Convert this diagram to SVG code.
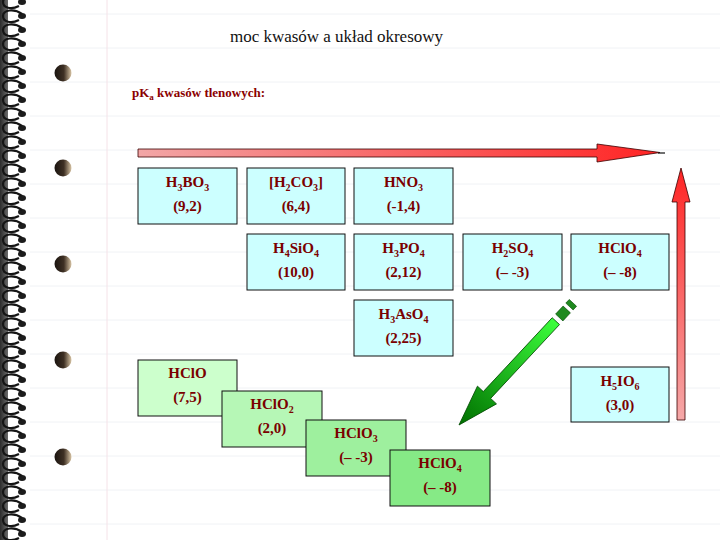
<svg xmlns="http://www.w3.org/2000/svg" width="720" height="540" viewBox="0 0 720 540">
<defs>
<style>
.bx{stroke:#111;stroke-width:1}
.blue{fill:#ccffff}
.t{font-family:"Liberation Serif",serif;font-weight:bold;font-size:15px;fill:#7a0000;text-anchor:middle}
.s{font-size:10px}
.ttl{font-family:"Liberation Serif",serif;font-size:17px;fill:#111}
.sub{font-family:"Liberation Serif",serif;font-weight:bold;font-size:13px;fill:#8b0000}
.rule{stroke:#f0f2f5;stroke-width:1}
.coil{fill:none;stroke:#151515;stroke-width:2.2}
</style>
<linearGradient id="gH" x1="0" y1="0" x2="1" y2="0">
<stop offset="0" stop-color="#f2a6a6"/><stop offset="1" stop-color="#ff2424"/>
</linearGradient>
<linearGradient id="gV" x1="0" y1="1" x2="0" y2="0">
<stop offset="0" stop-color="#f5a8a8"/><stop offset="1" stop-color="#ff2424"/>
</linearGradient>
<linearGradient id="gG" gradientUnits="userSpaceOnUse" x1="0" y1="0" x2="143" y2="0">
<stop offset="0" stop-color="#007000"/><stop offset="1" stop-color="#3cff3c"/>
</linearGradient>
<linearGradient id="hole" x1="0" y1="0" x2="1" y2="0">
<stop offset="0" stop-color="#1a1410"/><stop offset="0.55" stop-color="#3e3024"/><stop offset="1" stop-color="#d8c4a4"/>
</linearGradient>
<linearGradient id="edge" x1="0" y1="0" x2="1" y2="0">
<stop offset="0" stop-color="#2c2c2c"/><stop offset="1" stop-color="#6a6a6a"/>
</linearGradient>
<g id="c">
<ellipse cx="22" cy="0" rx="4" ry="3" fill="#1c1c1c"/>
<path class="coil" d="M22,-2 C14,-8 3,-6 3,0 C3,6 11,8 19,4"/>
</g>
</defs>
<rect width="720" height="540" fill="#ffffff"/>
<g id="paper">
<g>
<line class="rule" x1="30" y1="14" x2="720" y2="14"/>
<line class="rule" x1="30" y1="48" x2="720" y2="48"/>
<line class="rule" x1="30" y1="82" x2="720" y2="82"/>
<line class="rule" x1="30" y1="116" x2="720" y2="116"/>
<line class="rule" x1="30" y1="150" x2="720" y2="150"/>
<line class="rule" x1="30" y1="184" x2="720" y2="184"/>
<line class="rule" x1="30" y1="218" x2="720" y2="218"/>
<line class="rule" x1="30" y1="252" x2="720" y2="252"/>
<line class="rule" x1="30" y1="286" x2="720" y2="286"/>
<line class="rule" x1="30" y1="320" x2="720" y2="320"/>
<line class="rule" x1="30" y1="354" x2="720" y2="354"/>
<line class="rule" x1="30" y1="388" x2="720" y2="388"/>
<line class="rule" x1="30" y1="422" x2="720" y2="422"/>
<line class="rule" x1="30" y1="456" x2="720" y2="456"/>
<line class="rule" x1="30" y1="490" x2="720" y2="490"/>
<line class="rule" x1="30" y1="524" x2="720" y2="524"/>
</g>
<line x1="107" y1="0" x2="107" y2="540" stroke="#f5e2e8" stroke-width="1"/>
<rect x="0" y="0" width="8" height="540" fill="url(#edge)"/>
<g>
<use href="#c" y="2"/><use href="#c" y="16"/><use href="#c" y="30"/><use href="#c" y="44"/><use href="#c" y="58"/>
<use href="#c" y="72"/><use href="#c" y="86"/><use href="#c" y="100"/><use href="#c" y="114"/><use href="#c" y="128"/>
<use href="#c" y="142"/><use href="#c" y="156"/><use href="#c" y="170"/><use href="#c" y="184"/><use href="#c" y="198"/>
<use href="#c" y="212"/><use href="#c" y="226"/><use href="#c" y="240"/><use href="#c" y="254"/><use href="#c" y="268"/>
<use href="#c" y="282"/><use href="#c" y="296"/><use href="#c" y="310"/><use href="#c" y="324"/><use href="#c" y="338"/>
<use href="#c" y="352"/><use href="#c" y="366"/><use href="#c" y="380"/><use href="#c" y="394"/><use href="#c" y="408"/>
<use href="#c" y="422"/><use href="#c" y="436"/><use href="#c" y="450"/><use href="#c" y="464"/><use href="#c" y="478"/>
<use href="#c" y="492"/><use href="#c" y="506"/><use href="#c" y="520"/><use href="#c" y="534"/>
</g>
<g fill="url(#hole)">
<circle cx="63" cy="73" r="8.5"/>
<circle cx="63" cy="168" r="8.5"/>
<circle cx="63" cy="264" r="8.5"/>
<circle cx="63" cy="360" r="8.5"/>
<circle cx="63" cy="457" r="8.5"/>
</g>
</g>
<text id="title" class="ttl" x="230" y="42" textLength="213" lengthAdjust="spacing">moc kwasów a układ okresowy</text>
<text id="subtitle" class="sub" x="132" y="97">pK<tspan font-size="9" dy="3">a</tspan><tspan dy="-3"> kwasów tlenowych:</tspan></text>
<g id="connectors">
<path id="arrowH" d="M138,149 L597,149 L597,144 L660,152.5 L597,162 L597,157 L138,157 Z" fill="url(#gH)" stroke="#3a0000" stroke-width="0.8"/>
<line x1="658" y1="153" x2="665" y2="153" stroke="#111" stroke-width="1.2"/>
<path id="arrowV" d="M677,420 L677,202 L672,202 L681,168 L690,202 L685,202 L685,420 Z" fill="url(#gV)" stroke="#3a0000" stroke-width="0.8"/>
<g id="arrowG" transform="translate(459,425) rotate(-47)">
<path d="M0,0 L41,-13 L41,-5 L142,-5 L142,5 L41,5 L41,13 Z" fill="url(#gG)" stroke="#004a00" stroke-width="0.8"/>
<rect x="147" y="-5" width="11" height="10" fill="#1f8a1f" stroke="#004a00" stroke-width="0.6"/>
<rect x="162" y="-5" width="5" height="10" fill="#1f8a1f" stroke="#004a00" stroke-width="0.6"/>
</g>
</g>
<g id="n-h3bo3"><rect class="bx blue" x="138" y="168" width="99" height="56"/>
<text class="t" x="187.5" y="187">H<tspan class="s" dy="4">3</tspan><tspan dy="-4">BO</tspan><tspan class="s" dy="4">3</tspan></text>
<text class="t" x="187.5" y="211">(9,2)</text></g>
<g id="n-h2co3"><rect class="bx blue" x="247" y="168" width="98" height="56"/>
<text class="t" x="296" y="187">[H<tspan class="s" dy="4">2</tspan><tspan dy="-4">CO</tspan><tspan class="s" dy="4">3</tspan><tspan dy="-4">]</tspan></text>
<text class="t" x="296" y="211">(6,4)</text></g>
<g id="n-hno3"><rect class="bx blue" x="354" y="168" width="99" height="56"/>
<text class="t" x="403.5" y="187">HNO<tspan class="s" dy="4">3</tspan></text>
<text class="t" x="403.5" y="211">(-1,4)</text></g>
<g id="n-h4sio4"><rect class="bx blue" x="247" y="234" width="98" height="56"/>
<text class="t" x="296" y="253">H<tspan class="s" dy="4">4</tspan><tspan dy="-4">SiO</tspan><tspan class="s" dy="4">4</tspan></text>
<text class="t" x="296" y="277">(10,0)</text></g>
<g id="n-h3po4"><rect class="bx blue" x="354" y="234" width="99" height="56"/>
<text class="t" x="403.5" y="253">H<tspan class="s" dy="4">3</tspan><tspan dy="-4">PO</tspan><tspan class="s" dy="4">4</tspan></text>
<text class="t" x="403.5" y="277">(2,12)</text></g>
<g id="n-h2so4"><rect class="bx blue" x="463" y="234" width="99" height="56"/>
<text class="t" x="512.5" y="253">H<tspan class="s" dy="4">2</tspan><tspan dy="-4">SO</tspan><tspan class="s" dy="4">4</tspan></text>
<text class="t" x="512.5" y="277">(– -3)</text></g>
<g id="n-hclo4a"><rect class="bx blue" x="571" y="234" width="98" height="56"/>
<text class="t" x="620" y="253">HClO<tspan class="s" dy="4">4</tspan></text>
<text class="t" x="620" y="277">(– -8)</text></g>
<g id="n-h3aso4"><rect class="bx blue" x="354" y="300" width="99" height="56"/>
<text class="t" x="403.5" y="319">H<tspan class="s" dy="4">3</tspan><tspan dy="-4">AsO</tspan><tspan class="s" dy="4">4</tspan></text>
<text class="t" x="403.5" y="343">(2,25)</text></g>
<g id="n-h5io6"><rect class="bx blue" x="571" y="367" width="98" height="55"/>
<text class="t" x="620" y="386">H<tspan class="s" dy="4">5</tspan><tspan dy="-4">IO</tspan><tspan class="s" dy="4">6</tspan></text>
<text class="t" x="620" y="410">(3,0)</text></g>
<g id="n-hclo"><rect class="bx" fill="#ccffcc" x="138" y="360" width="99" height="56"/>
<text class="t" x="187.5" y="378">HClO</text>
<text class="t" x="187.5" y="402">(7,5)</text></g>
<g id="n-hclo2"><rect class="bx" fill="#b6f7b6" x="222" y="391" width="100" height="56"/>
<text class="t" x="272" y="409">HClO<tspan class="s" dy="4">2</tspan></text>
<text class="t" x="272" y="433">(2,0)</text></g>
<g id="n-hclo3"><rect class="bx" fill="#9ef09e" x="306" y="420" width="100" height="56"/>
<text class="t" x="356" y="438">HClO<tspan class="s" dy="4">3</tspan></text>
<text class="t" x="356" y="462">(– -3)</text></g>
<g id="n-hclo4b"><rect class="bx" fill="#86ea86" x="390" y="450" width="100" height="56"/>
<text class="t" x="440" y="468">HClO<tspan class="s" dy="4">4</tspan></text>
<text class="t" x="440" y="492">(– -8)</text></g>
</svg>
